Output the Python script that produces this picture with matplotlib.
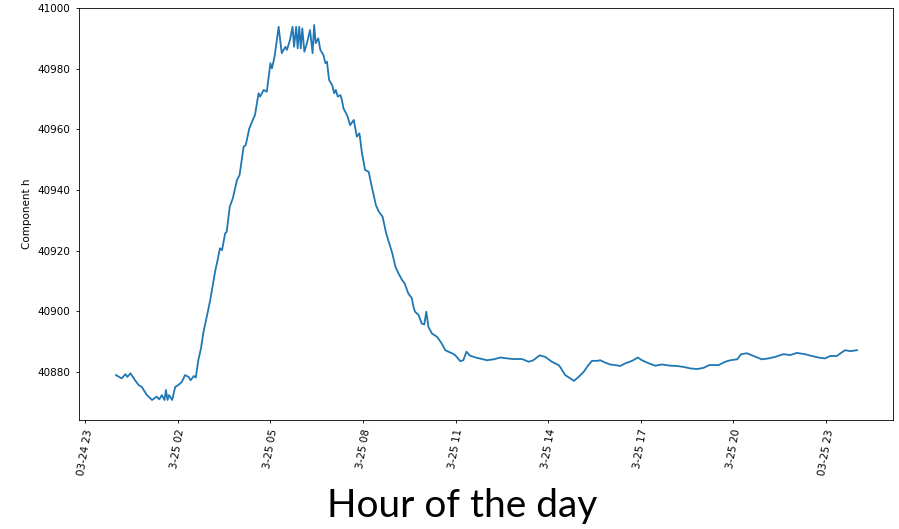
import numpy as np
import pandas as pd
import matplotlib
matplotlib.use("Agg")
import matplotlib.pyplot as plt
import matplotlib.dates as mdates

# minutes after 03-25 00:00
minutes = [0, 11, 18, 22, 28, 37, 44, 50, 60, 70, 79, 84, 89, 94, 97, 100, 103, 109,
           115, 121, 128, 134, 141, 145, 151, 155, 160, 165, 170, 177, 183, 187, 193,
           196, 202, 206, 212, 215, 221, 227, 235, 240, 248, 252, 259, 267, 270, 277,
           280, 287, 293, 300, 303, 308, 316, 322, 329, 332, 338, 343, 346, 350, 353,
           356, 359, 362, 366, 371, 377, 382, 385, 388, 393, 397, 403, 407, 410, 414,
           420, 424, 427, 431, 436, 439, 442, 449, 455, 462, 468, 473, 478, 484, 491,
           497, 500, 505, 511, 518, 525, 533, 537, 543, 549, 556, 561, 568, 575, 578,
           581, 588, 594, 599, 603, 607, 614, 624, 633, 640, 646, 653, 659, 669, 675,
           681, 688, 701, 711, 721, 734, 747, 760, 772, 789, 802, 811, 823, 834, 847,
           860, 863, 873, 883, 890, 899, 909, 918, 925, 935, 941, 951, 960, 970, 980,
           990, 1003, 1014, 1022, 1035, 1048, 1061, 1077, 1090, 1103, 1116, 1129, 1142,
           1153, 1158, 1171, 1184, 1194, 1207, 1215, 1226, 1239, 1255, 1268, 1281, 1297,
           1310, 1323, 1339, 1352, 1365, 1378, 1388, 1401, 1408, 1417, 1427, 1440]

component_h = [40879.0, 40877.9, 40879.3, 40878.4, 40879.6, 40877.3, 40875.7, 40875.1,
               40872.4, 40870.8, 40871.9, 40871.0, 40872.4, 40870.8, 40874.1, 40870.8,
               40872.4, 40870.8, 40875.1, 40875.7, 40876.8, 40879.0, 40878.4, 40877.3,
               40878.7, 40878.2, 40884.0, 40887.8, 40893.3, 40898.8, 40903.7, 40907.6,
               40913.6, 40915.8, 40920.8, 40920.2, 40925.7, 40926.2, 40934.5, 40937.3,
               40943.3, 40944.9, 40954.3, 40954.8, 40960.3, 40963.6, 40964.7, 40971.9,
               40970.8, 40973.0, 40972.4, 40981.8, 40980.1, 40983.9, 40993.8, 40985.1,
               40987.2, 40986.2, 40989.4, 40993.8, 40987.2, 40993.8, 40986.7, 40993.8,
               40986.7, 40993.3, 40985.6, 40988.4, 40992.7, 40985.1, 40994.4, 40988.4,
               40990.0, 40986.2, 40984.5, 40981.8, 40982.3, 40976.3, 40974.6, 40971.9,
               40973.0, 40970.8, 40971.3, 40969.7, 40966.9, 40964.7, 40961.4, 40963.1,
               40957.6, 40958.7, 40952.1, 40946.6, 40946.0, 40941.1, 40938.9, 40935.0,
               40932.8, 40931.2, 40925.7, 40921.3, 40919.1, 40914.7, 40912.5, 40910.3,
               40909.2, 40905.9, 40904.3, 40901.5, 40899.9, 40898.8, 40896.0, 40895.7,
               40899.9, 40894.9, 40892.7, 40891.6, 40889.4, 40887.2, 40886.7, 40886.2,
               40885.6, 40883.6, 40883.9, 40886.7, 40885.4, 40884.7, 40884.3, 40883.9,
               40884.2, 40884.8, 40884.5, 40884.3, 40884.3, 40883.4, 40883.9, 40885.5,
               40885.0, 40883.4, 40882.3, 40881.7, 40879.0, 40877.9, 40877.1, 40878.4,
               40880.1, 40882.3, 40883.7, 40883.7, 40883.9, 40883.1, 40882.5, 40882.3,
               40882.0, 40882.9, 40883.7, 40884.8, 40883.9, 40882.9, 40882.1, 40882.5,
               40882.1, 40882.0, 40881.7, 40881.2, 40881.0, 40881.4, 40882.3, 40882.3,
               40882.3, 40883.4, 40883.9, 40884.2, 40885.9, 40886.2, 40885.3, 40884.2,
               40884.5, 40885.0, 40885.9, 40885.6, 40886.3, 40885.9, 40885.3, 40884.8,
               40884.5, 40885.3, 40885.3, 40886.2, 40887.2, 40886.9, 40887.2]

tick_times = ["2019-03-24 23:00", "2019-03-25 02:00", "2019-03-25 05:00",
              "2019-03-25 08:00", "2019-03-25 11:00", "2019-03-25 14:00",
              "2019-03-25 17:00", "2019-03-25 20:00", "2019-03-25 23:00"]
tick_labels = ["03-24 23", "3-25 02", "3-25 05", "3-25 08", "3-25 11",
               "3-25 14", "3-25 17", "3-25 20", "03-25 23"]

start = pd.Timestamp("2019-03-25 00:00")
times = start + pd.to_timedelta(minutes, unit="min")

fig = plt.figure(figsize=(8.99, 5.29), dpi=100)
ax = fig.add_axes([79 / 899, 1 - 420 / 529, (893 - 79) / 899, (420 - 8) / 529])

ax.plot(times, component_h, color="#1f77b4", linewidth=1.3)

ax.set_ylim(40864.2, 41000)
ax.set_xlim(pd.Timestamp("2019-03-24 22:48"), pd.Timestamp("2019-03-26 01:10"))
ax.set_xticks(pd.to_datetime(tick_times))
ax.set_xticklabels(tick_labels, rotation=80, fontsize=7.5)
ax.set_yticks([40880, 40900, 40920, 40940, 40960, 40980, 41000])
ax.tick_params(axis="y", labelsize=7.5)
ax.tick_params(length=2.5, width=0.6)
for s in ax.spines.values():
    s.set_linewidth(0.6)
ax.set_ylabel("Component h", fontsize=7.5)

fig.text(462 / 899, 1 - 506 / 529, "Hour of the day", ha="center", va="center",
         fontsize=28, family=["Lato", "DejaVu Sans"])

fig.savefig("out.png", dpi=100)
